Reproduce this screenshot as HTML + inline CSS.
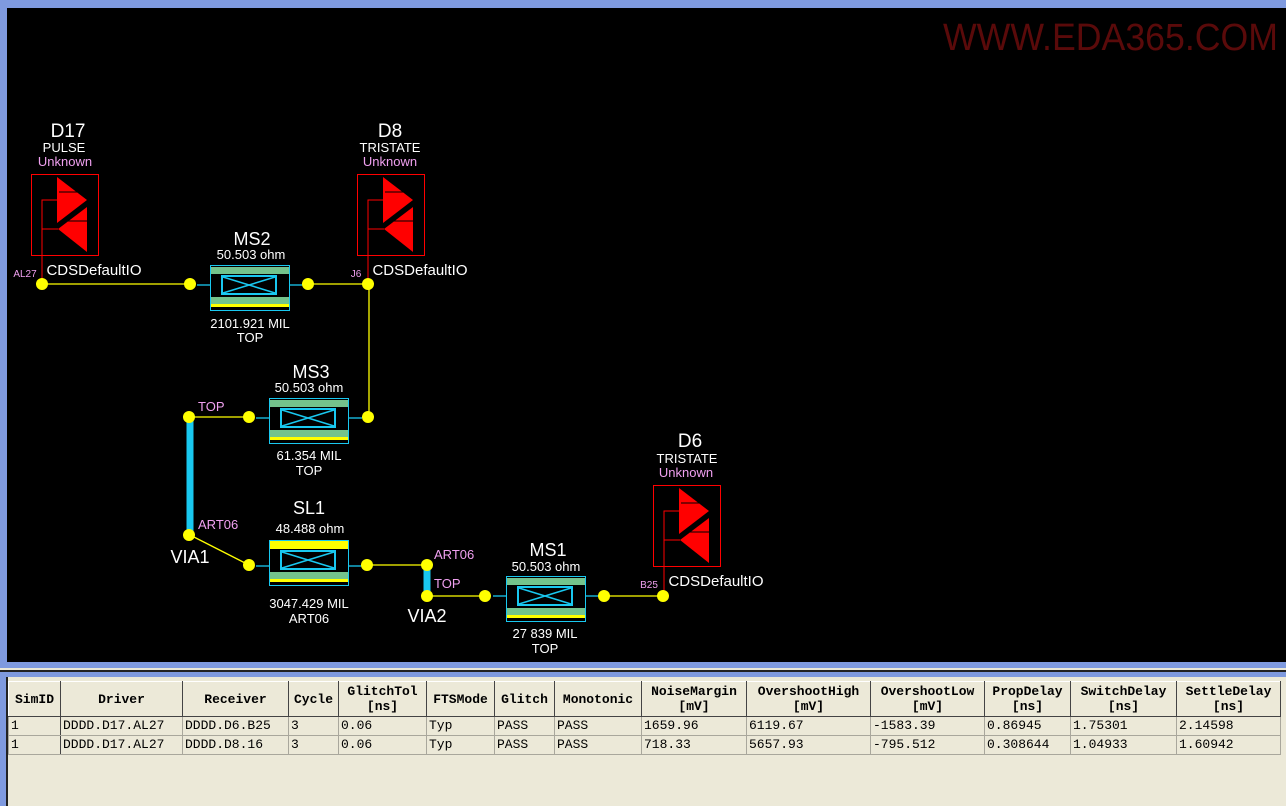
<!DOCTYPE html>
<html><head><style>
body{margin:0;width:1286px;height:806px;overflow:hidden;background:#ece9d8;position:relative;font-family:"Liberation Mono",monospace}
.pane{position:absolute;left:0;top:0;width:1286px;height:668px;background:#7f9adf}
.blk{position:absolute;left:7px;top:8px;width:1279px;height:654px;background:#000}
.tp{position:absolute;left:0;top:670px;width:1286px;height:136px;background:#ece9d8}
.tp .line{position:absolute;left:0;top:0;width:1286px;height:2px;background:#222}
.tp .bl{position:absolute;left:0;top:2px;width:1286px;height:5px;background:#7f9adf}
.tp .bl2{position:absolute;left:0;top:2px;width:6px;height:134px;background:#7f9adf}
.tp .bk{position:absolute;left:6px;top:7px;width:2px;height:129px;background:#222}
table{position:absolute;left:8px;top:681px;border-collapse:collapse;table-layout:fixed;font-size:13px}
td,th{border:1px solid #a9a79c;padding:0 2px;white-space:nowrap;overflow:hidden}
th{height:34px;font-weight:bold;line-height:15px;border:1px solid #444;border-top-color:#fff;border-left-color:#fff;text-align:center}
td{height:18px;line-height:18px;text-align:left}
td:first-child{border-right:1px solid #444}
</style></head><body>
<div class="pane"></div>
<div class="blk"></div>
<svg style="position:absolute;left:0;top:0" width="1286" height="668" font-family="Liberation Mono, monospace">
<text x="943" y="50" fill="#5a0a0a" font-size="38" textLength="335" lengthAdjust="spacingAndGlyphs" font-family="Liberation Sans Narrow, Liberation Sans, sans-serif">WWW.EDA365.COM</text>
<defs>
<g id="drv">
<rect x="0.5" y="0.5" width="67" height="81" fill="none" stroke="#f00"/>
<polygon points="26,3 56,26 26,49" fill="#f00"/>
<polygon points="56,33 56,78 27,55" fill="#f00"/>
<line x1="28" y1="18" x2="51" y2="18" stroke="#000"/>
<line x1="33" y1="47" x2="56" y2="47" stroke="#000"/>
<polyline points="26,26 11,26 11,110" fill="none" stroke="#f00"/>
<line x1="11" y1="55" x2="27" y2="55" stroke="#f00"/>
</g>
<g id="ms">
<rect x="0.5" y="0.5" width="79" height="45" fill="#000" stroke="#19c8f0"/>
<rect x="1" y="2" width="78" height="7" fill="#74c38c"/>
<rect x="1" y="32" width="78" height="7" fill="#74c38c"/>
<rect x="1" y="39" width="78" height="3" fill="#ff0"/>
<rect x="12" y="11" width="54" height="18" fill="none" stroke="#19c8f0" stroke-width="2"/>
<path d="M13,12 L65,28 M13,28 L65,12" stroke="#19c8f0" stroke-width="1.5"/>
</g>
</defs>
<g fill="#fff" font-size="13" text-anchor="middle" font-family="Liberation Sans Narrow, Liberation Sans, sans-serif">
<use href="#drv" x="31" y="174"/>
<use href="#drv" x="357" y="174"/>
<use href="#drv" x="653" y="485"/>
<g stroke="#ff0" stroke-width="1.3">
<line x1="42" y1="284" x2="190" y2="284"/><line x1="308" y1="284" x2="368" y2="284"/>
<line x1="369" y1="284" x2="369" y2="416"/>
<line x1="190" y1="417" x2="249" y2="417"/>
<line x1="190" y1="535" x2="249" y2="565"/>
<line x1="368" y1="565" x2="427" y2="565"/>
<line x1="427" y1="596" x2="486" y2="596"/>
<line x1="604" y1="596" x2="664" y2="596"/>
</g>
<g stroke="#19c8f0" stroke-width="1.3">
<line x1="197" y1="285" x2="210" y2="285"/><line x1="290" y1="285" x2="303" y2="285"/>
<line x1="256" y1="418" x2="269" y2="418"/><line x1="349" y1="418" x2="362" y2="418"/>
<line x1="256" y1="566" x2="269" y2="566"/><line x1="349" y1="566" x2="362" y2="566"/>
<line x1="493" y1="596" x2="506" y2="596"/><line x1="586" y1="596" x2="599" y2="596"/>
</g>
<use href="#ms" x="210" y="265"/>
<use href="#ms" x="269" y="398"/>
<use href="#ms" x="269" y="540"/>
<rect x="270" y="541" width="78" height="8" fill="#ff0"/>
<use href="#ms" x="506" y="576"/>
<line x1="190" y1="421" x2="190" y2="531" stroke="#19c8f0" stroke-width="7"/>
<line x1="427" y1="569" x2="427" y2="592" stroke="#19c8f0" stroke-width="7"/>
<g fill="#ff0">
<circle cx="42" cy="284" r="6"/><circle cx="190" cy="284" r="6"/><circle cx="308" cy="284" r="6"/><circle cx="368" cy="284" r="6"/>
<circle cx="189" cy="417" r="6"/><circle cx="249" cy="417" r="6"/><circle cx="368" cy="417" r="6"/>
<circle cx="189" cy="535" r="6"/><circle cx="249" cy="565" r="6"/><circle cx="367" cy="565" r="6"/>
<circle cx="427" cy="565" r="6"/><circle cx="427" cy="596" r="6"/><circle cx="485" cy="596" r="6"/><circle cx="604" cy="596" r="6"/><circle cx="663" cy="596" r="6"/>
</g>
<text x="68" y="137" font-size="19">D17</text><text x="64" y="152" font-size="13">PULSE</text><text x="65" y="166" font-size="13" fill="#f0a0f0">Unknown</text>
<text x="390" y="137" font-size="19">D8</text><text x="390" y="152" font-size="13">TRISTATE</text><text x="390" y="166" font-size="13" fill="#f0a0f0">Unknown</text>
<text x="690" y="447" font-size="19">D6</text><text x="687" y="463" font-size="13">TRISTATE</text><text x="686" y="477" font-size="13" fill="#f0a0f0">Unknown</text>
<text x="94" y="275" font-size="15">CDSDefaultIO</text><text x="420" y="275" font-size="15">CDSDefaultIO</text><text x="716" y="586" font-size="15">CDSDefaultIO</text>
<text x="25" y="277" font-size="10" fill="#f0a0f0">AL27</text><text x="356" y="277" font-size="10" fill="#f0a0f0">J6</text><text x="649" y="588" font-size="10" fill="#f0a0f0">B25</text>
<text x="252" y="245" font-size="18">MS2</text><text x="251" y="259" font-size="13">50.503 ohm</text><text x="250" y="328" font-size="13">2101.921 MIL</text><text x="250" y="342" font-size="13">TOP</text>
<text x="311" y="378" font-size="18">MS3</text><text x="309" y="392" font-size="13">50.503 ohm</text><text x="309" y="460" font-size="13">61.354 MIL</text><text x="309" y="475" font-size="13">TOP</text>
<text x="309" y="514" font-size="18">SL1</text><text x="310" y="533" font-size="13">48.488 ohm</text><text x="309" y="608" font-size="13">3047.429 MIL</text><text x="309" y="623" font-size="13">ART06</text>
<text x="548" y="556" font-size="18">MS1</text><text x="546" y="571" font-size="13">50.503 ohm</text><text x="545" y="638" font-size="13">27 839 MIL</text><text x="545" y="653" font-size="13">TOP</text>
<text x="190" y="563" font-size="18">VIA1</text><text x="427" y="622" font-size="18">VIA2</text>
<g fill="#f0a0f0" font-size="13" text-anchor="start">
<text x="198" y="411">TOP</text><text x="198" y="529">ART06</text><text x="434" y="559">ART06</text><text x="434" y="588">TOP</text>
</g>
</g>
</svg>
<div class="tp"><div class="line"></div><div class="bl"></div><div class="bl2"></div><div class="bk"></div></div>
<table>
<colgroup><col style="width:52px"><col style="width:122px"><col style="width:106px"><col style="width:50px"><col style="width:88px"><col style="width:68px"><col style="width:60px"><col style="width:87px"><col style="width:105px"><col style="width:124px"><col style="width:114px"><col style="width:86px"><col style="width:106px"><col style="width:104px"></colgroup>
<tr><th>SimID</th><th>Driver</th><th>Receiver</th><th>Cycle</th><th>GlitchTol<br>[ns]</th><th>FTSMode</th><th>Glitch</th><th>Monotonic</th><th>NoiseMargin<br>[mV]</th><th>OvershootHigh<br>[mV]</th><th>OvershootLow<br>[mV]</th><th>PropDelay<br>[ns]</th><th>SwitchDelay<br>[ns]</th><th>SettleDelay<br>[ns]</th></tr>
<tr><td>1</td><td>DDDD.D17.AL27</td><td>DDDD.D6.B25</td><td>3</td><td>0.06</td><td>Typ</td><td>PASS</td><td>PASS</td><td>1659.96</td><td>6119.67</td><td>-1583.39</td><td>0.86945</td><td>1.75301</td><td>2.14598</td></tr>
<tr><td>1</td><td>DDDD.D17.AL27</td><td>DDDD.D8.16</td><td>3</td><td>0.06</td><td>Typ</td><td>PASS</td><td>PASS</td><td>718.33</td><td>5657.93</td><td>-795.512</td><td>0.308644</td><td>1.04933</td><td>1.60942</td></tr>
</table>
</body></html>
